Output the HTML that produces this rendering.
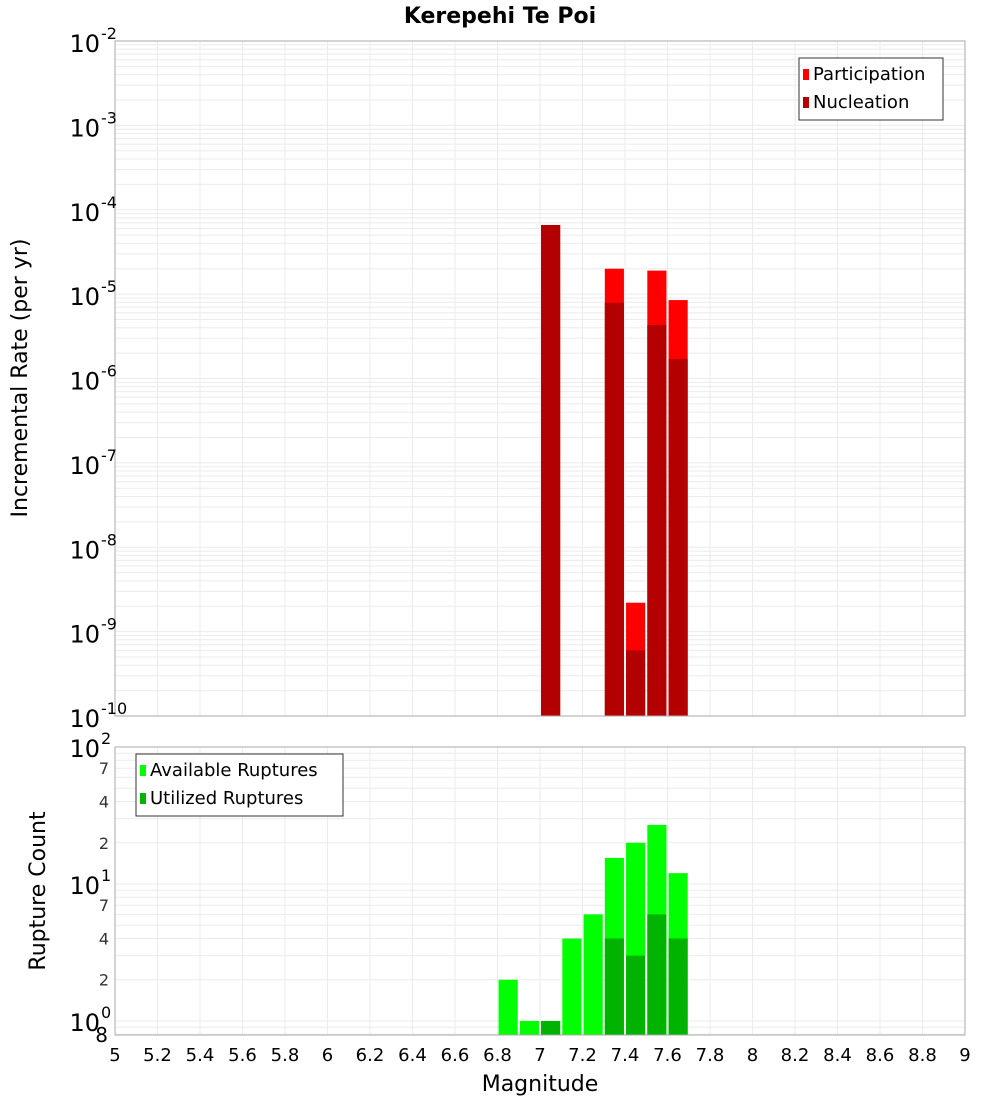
<!DOCTYPE html>
<html><head><meta charset="utf-8"><style>
body{margin:0;background:#fff;font-family:"Liberation Sans","DejaVu Sans",sans-serif}
svg{display:block}
text{font-family:"DejaVu Sans","Liberation Sans",sans-serif}
</style></head><body>
<svg id="c" width="1000" height="1100"></svg>
<script>
const binCenters=[6.85,6.95,7.05,7.15,7.25,7.35,7.45,7.55,7.65];
const participation=[0,0,6.6e-5,0,0,2.0e-5,2.2e-9,1.9e-5,8.5e-6];
const nucleation=[0,0,6.6e-5,0,0,7.9e-6,6e-10,4.3e-6,1.7e-6];
const available=[2,1,1,4,6,15.5,20,27,12];
const utilized=[0,0,1,0,0,4,3,6,4];
const xTicks=[5,5.2,5.4,5.6,5.8,6,6.2,6.4,6.6,6.8,7,7.2,7.4,7.6,7.8,8,8.2,8.4,8.6,8.8,9];
const topExps=[-2,-3,-4,-5,-6,-7,-8,-9,-10];
const botExps=[2,1,0];
const botMinor=[7,4,2];

const NS="http://www.w3.org/2000/svg";
const svg=document.getElementById('c');
function el(t,a,p){const e=document.createElementNS(NS,t);for(const k in a)e.setAttribute(k,a[k]);(p||svg).appendChild(e);return e;}
const L=115,R=965;
const X=m=>L+(m-5)/4*(R-L);
const T0=41,T1=716;
const YT=v=>T0+(-2-Math.log10(v))/8*(T1-T0);
const B0=747,B1=1035,BMIN=0.79,BMAX=100;
const YB=v=>B0+(Math.log10(BMAX)-Math.log10(v))/(Math.log10(BMAX)-Math.log10(BMIN))*(B1-B0);

function grid(y0,y1,yf,lo,hi){
  for(const t of xTicks){const l=el('line',{x1:X(t),x2:X(t),y1:y0,y2:y1,stroke:'#ebebeb'});}
  for(let e=lo;e<hi;e++)for(let k=1;k<10;k++){const v=k*Math.pow(10,e);const y=yf(v);if(y<y0||y>y1)continue;const l=el('line',{x1:L,x2:R,y1:y,y2:y,stroke:'#ebebeb'});}
}
grid(T0,T1,YT,-10,-2);
grid(B0,B1,YB,-1,2);

// top bars
const bw=0.09;
binCenters.forEach((c,i)=>{
  if(participation[i]>0){const y=YT(participation[i]);const r=el('rect',{x:X(c-bw/2),y:y,width:X(c+bw/2)-X(c-bw/2),height:T1-y,fill:'#ff0000'});}
  if(nucleation[i]>0){const y=YT(nucleation[i]);const r=el('rect',{x:X(c-bw/2),y:y,width:X(c+bw/2)-X(c-bw/2),height:T1-y,fill:'#b30000'});}
  if(available[i]>0){const y=YB(available[i]);const r=el('rect',{x:X(c-bw/2),y:y,width:X(c+bw/2)-X(c-bw/2),height:B1-y,fill:'#00ff00'});}
  if(utilized[i]>0){const y=YB(utilized[i]);const r=el('rect',{x:X(c-bw/2),y:y,width:X(c+bw/2)-X(c-bw/2),height:B1-y,fill:'#00b300'});}
});

// frames
let f=el('rect',{x:L,y:T0,width:R-L,height:T1-T0,fill:'none',stroke:'#aaa'});
f=el('rect',{x:L,y:B0,width:R-L,height:B1-B0,fill:'none',stroke:'#aaa'});

// top y labels
topExps.forEach(e=>{const y=YT(Math.pow(10,e));
  const t=el('text',{x:100,y:y+11,'font-size':24,'text-anchor':'end',fill:'#000'});t.textContent='10';
  const s=el('text',{x:101,y:y-2,'font-size':16,fill:'#000'});s.textContent=String(e);
});
// bottom y labels
botExps.forEach(e=>{const y=YB(Math.pow(10,e));
  const t=el('text',{x:100,y:y+10,'font-size':24,'text-anchor':'end',fill:'#000'});t.textContent='10';
  const s=el('text',{x:101,y:y-3,'font-size':16,fill:'#000'});s.textContent=String(e);
});
[1,0].forEach(e=>botMinor.forEach(k=>{const y=YB(k*Math.pow(10,e));
  const t=el('text',{x:109,y:y+6,'font-size':16,'text-anchor':'end',fill:'#333'});t.textContent=String(k);
}));
let t8=el('text',{x:108,y:B1+7,'font-size':20,'text-anchor':'end',fill:'#000'});t8.textContent='8';

// x labels
xTicks.forEach(v=>{const t=el('text',{x:X(v),y:1061,'font-size':18,'text-anchor':'middle',fill:'#000'});t.textContent=String(v);});

function txt(s,a,name){const t=el('text',a);t.textContent=s;return t;}
txt('Kerepehi Te Poi',{x:500,y:23,'font-size':22,'font-weight':'bold','text-anchor':'middle'},'chart-title');
txt('Magnitude',{x:540,y:1091,'font-size':22,'text-anchor':'middle'},'x-axis-title');
txt('Incremental Rate (per yr)',{x:27,y:378,'font-size':22,'text-anchor':'middle',transform:'rotate(-90 27 378)'},'top-y-axis-title');
txt('Rupture Count',{x:45,y:891,'font-size':22,'text-anchor':'middle',transform:'rotate(-90 45 891)'},'bottom-y-axis-title');

// legends
function legend(x,y,w,items,name){const g=el('g',{});
  el('rect',{x:x,y:y,width:w,height:items.length*28+6,fill:'#fff',stroke:'#333'},g);
  items.forEach((it,i)=>{el('rect',{x:x+4,y:y+11+i*28,width:6,height:11,fill:it[1]},g);
    const t=el('text',{x:x+14,y:y+22+i*28,'font-size':18},g);t.textContent=it[0];});
}
legend(799,58,144,[['Participation','#ff0000'],['Nucleation','#b30000']],'top-legend');
legend(136,754,207,[['Available Ruptures','#00ff00'],['Utilized Ruptures','#00b300']],'bottom-legend');
</script>
</body></html>
